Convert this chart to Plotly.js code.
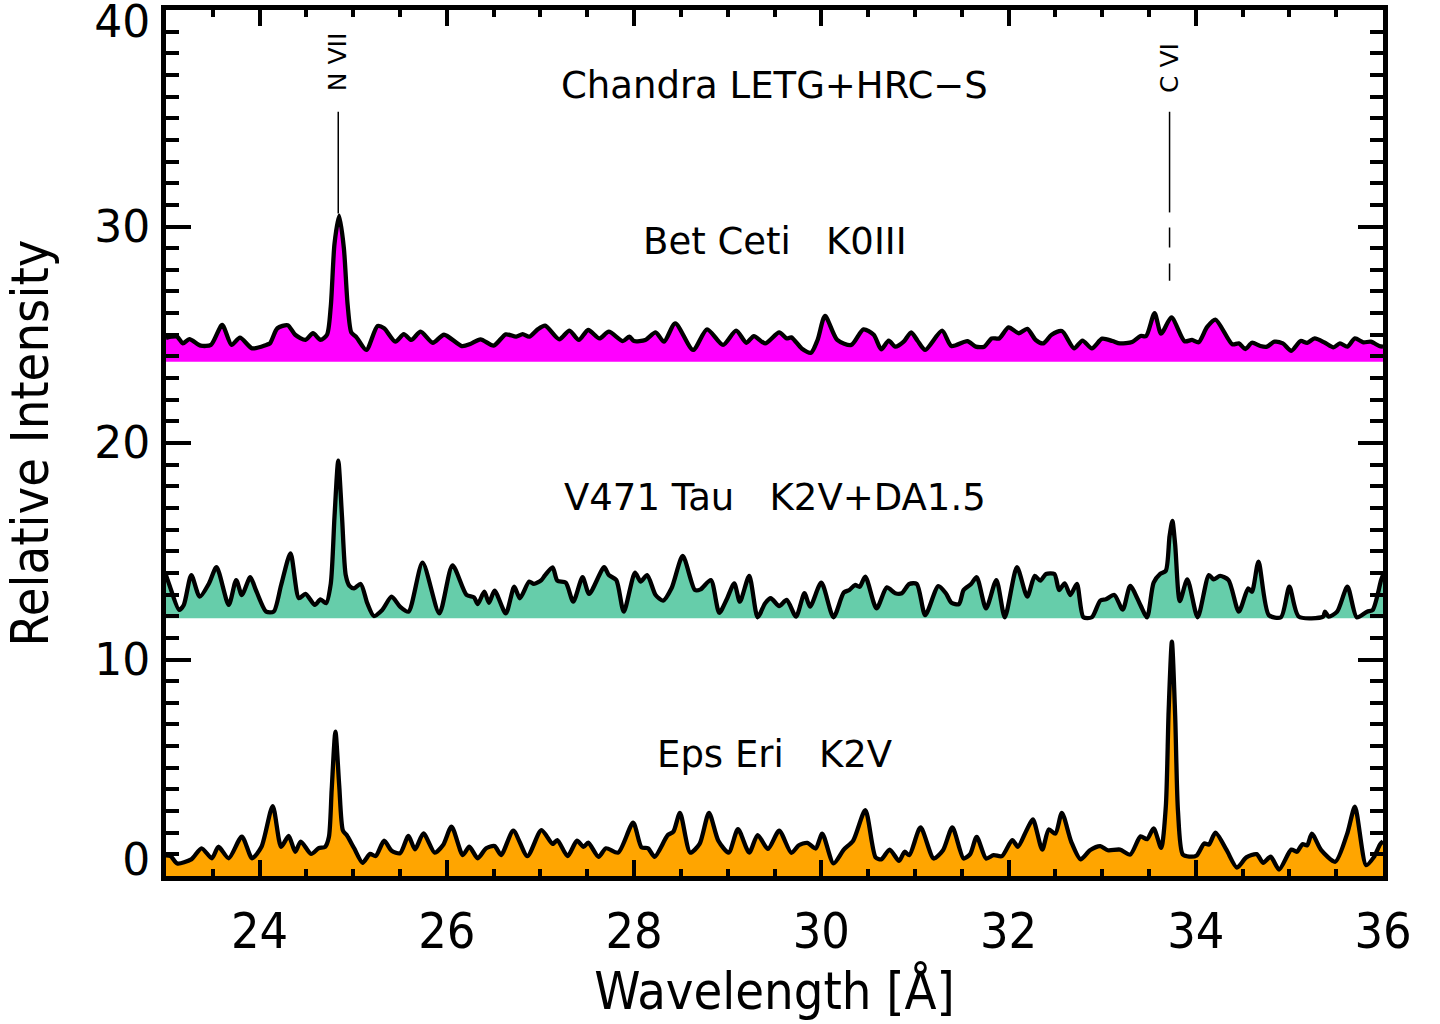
<!DOCTYPE html>
<html><head><meta charset="utf-8">
<script src="https://cdn.plot.ly/plotly-3.0.1.min.js"></script>
<style>body{margin:0;background:#fff}#chart{width:1440px;height:1024px}</style>
</head><body><div id="chart"></div>
<script>
// ---- Data ----
const betX = [23.00,23.06,23.12,23.18,23.25,23.37,23.48,23.60,23.70,23.79,23.92,24.07,24.11,24.19,24.30,24.38,24.49,24.57,24.65,24.72,24.76,24.80,24.85,24.90,24.94,24.98,25.03,25.14,25.26,25.33,25.45,25.54,25.62,25.72,25.85,25.97,26.16,26.25,26.36,26.50,26.63,26.74,26.81,26.88,26.97,27.05,27.20,27.31,27.41,27.51,27.63,27.73,27.88,27.95,28.00,28.12,28.23,28.32,28.44,28.63,28.78,28.95,29.09,29.20,29.28,29.40,29.55,29.63,29.68,29.79,29.89,29.96,30.04,30.17,30.32,30.45,30.56,30.64,30.72,30.79,30.88,30.96,31.03,31.11,31.29,31.39,31.56,31.65,31.74,31.82,31.90,32.00,32.11,32.20,32.29,32.37,32.46,32.57,32.70,32.79,32.89,33.00,33.11,33.19,33.32,33.41,33.47,33.56,33.63,33.74,33.88,33.96,34.03,34.12,34.21,34.39,34.46,34.53,34.60,34.69,34.76,34.84,34.93,35.02,35.12,35.19,35.27,35.38,35.47,35.54,35.62,35.70,35.79,35.87,35.96,36.00];
const betY = [24.85,24.91,24.91,24.60,24.80,24.50,24.53,25.45,24.53,24.87,24.37,24.53,24.60,25.30,25.44,25.00,24.76,25.07,24.76,25.00,26.3,29.2,30.5,29.0,26.4,25.1,24.91,24.30,25.40,25.30,24.68,25.03,24.76,25.14,24.63,25.00,24.48,24.57,24.79,24.50,25.02,24.91,25.03,24.91,25.25,25.42,24.79,25.19,24.76,25.22,24.83,25.14,24.71,24.91,24.71,24.76,25.11,24.68,25.53,24.30,25.25,24.53,25.19,24.63,24.94,24.60,25.11,24.83,24.88,24.37,24.17,24.76,25.87,24.76,24.53,25.25,25.00,24.33,24.73,24.45,24.68,25.11,24.71,24.30,25.19,24.48,24.71,24.45,24.45,24.83,24.83,25.34,25.07,25.27,24.76,24.60,25.00,25.17,24.37,24.73,24.37,24.82,24.71,24.60,24.67,24.94,24.94,26.0,25.05,25.8,24.70,24.76,24.65,25.35,25.7,24.56,24.60,24.34,24.63,24.48,24.45,24.68,24.60,24.26,24.71,24.63,24.83,24.63,24.42,24.60,24.45,24.83,24.65,24.68,24.48,24.45];

const v471X = [23.00,23.04,23.14,23.19,23.27,23.36,23.46,23.54,23.67,23.75,23.81,23.90,23.96,24.07,24.15,24.23,24.33,24.42,24.49,24.59,24.65,24.71,24.76,24.80,24.84,24.88,24.92,24.96,25.01,25.08,25.15,25.22,25.31,25.41,25.50,25.59,25.74,25.92,26.06,26.21,26.29,26.33,26.40,26.45,26.51,26.63,26.72,26.78,26.88,26.93,27.01,27.05,27.13,27.18,27.27,27.35,27.45,27.52,27.68,27.73,27.81,27.89,28.01,28.07,28.14,28.23,28.31,28.40,28.52,28.65,28.71,28.82,28.91,28.99,29.07,29.13,29.23,29.32,29.40,29.46,29.55,29.63,29.73,29.82,29.88,30.00,30.13,30.24,30.30,30.36,30.41,30.47,30.59,30.70,30.79,30.86,30.94,31.02,31.11,31.25,31.33,31.39,31.47,31.52,31.60,31.66,31.76,31.87,31.96,32.09,32.20,32.28,32.34,32.40,32.49,32.54,32.60,32.66,32.73,32.80,32.89,32.98,33.04,33.13,33.22,33.30,33.41,33.48,33.55,33.62,33.68,33.72,33.75,33.78,33.83,33.91,34.02,34.14,34.19,34.26,34.35,34.46,34.56,34.60,34.67,34.78,34.91,35.00,35.10,35.36,35.38,35.42,35.51,35.62,35.72,35.83,35.89,35.98,36.00];
const v471Y = [13.9,13.4,12.29,12.52,13.90,12.90,13.52,14.26,12.52,13.67,12.98,13.80,13.21,12.21,12.21,13.44,14.90,12.83,13.03,12.52,12.78,12.60,13.5,16.6,19.19,16.6,13.9,13.4,13.29,13.49,12.60,12.01,12.29,12.90,12.44,12.21,14.47,12.13,14.35,12.98,12.87,12.56,13.13,12.62,13.18,12.13,13.36,12.83,13.60,13.49,13.67,13.90,14.26,13.64,13.55,12.67,13.80,13.03,14.26,13.90,13.67,12.21,14.01,13.60,13.90,12.98,12.72,13.29,14.78,13.21,13.24,13.67,12.16,12.78,13.52,12.67,13.86,11.95,12.6,12.83,12.47,12.75,11.98,13.06,12.44,13.55,11.95,13.09,13.21,13.44,13.36,13.83,12.36,13.33,13.06,13.06,13.49,13.49,12.05,13.39,13.06,12.62,12.56,13.21,13.49,13.80,12.36,13.67,11.95,14.26,12.90,13.86,13.64,13.95,13.95,13.21,13.52,12.98,13.49,11.95,11.95,12.72,12.78,12.98,12.3,13.4,12.5,11.95,13.55,13.95,14.1,15.7,16.4,15.3,12.7,13.7,11.95,13.9,13.7,13.86,13.67,12.21,13.29,13.13,14.52,12.05,11.95,13.36,11.98,11.98,12.21,11.98,12.21,13.36,11.95,12.21,12.29,13.67,13.9];

const epsX = [23.00,23.05,23.12,23.27,23.38,23.49,23.56,23.67,23.81,23.92,24.02,24.14,24.23,24.31,24.38,24.44,24.55,24.63,24.70,24.74,24.77,24.81,24.85,24.89,24.93,25.01,25.10,25.18,25.24,25.33,25.41,25.50,25.59,25.66,25.75,25.87,25.96,26.05,26.17,26.24,26.33,26.42,26.51,26.58,26.71,26.86,27.01,27.13,27.18,27.29,27.39,27.46,27.51,27.62,27.70,27.83,27.99,28.08,28.15,28.22,28.36,28.42,28.49,28.60,28.70,28.80,28.90,29.01,29.11,29.23,29.32,29.43,29.55,29.68,29.76,29.85,29.94,30.01,30.13,30.24,30.34,30.47,30.58,30.64,30.73,30.83,30.89,30.94,31.06,31.20,31.30,31.40,31.52,31.59,31.66,31.76,31.84,31.93,32.04,32.10,32.19,32.26,32.36,32.43,32.50,32.57,32.67,32.77,32.87,32.98,33.06,33.19,33.30,33.41,33.48,33.55,33.63,33.68,33.71,33.745,33.78,33.81,33.86,33.93,34.01,34.09,34.14,34.21,34.33,34.44,34.54,34.65,34.72,34.80,34.89,35.02,35.08,35.14,35.19,35.24,35.34,35.49,35.62,35.70,35.82,35.90,35.97,36.00];
const epsY = [0.95,0.92,0.58,0.77,1.28,0.82,1.35,0.82,1.82,0.82,1.35,3.23,1.35,1.85,1.12,1.59,1.02,1.28,1.35,1.8,4.0,6.67,4.2,2.1,1.89,1.28,0.61,1.02,0.92,1.63,1.17,1.05,1.85,1.23,1.97,1.08,1.43,2.28,0.97,1.35,0.82,1.28,1.38,0.97,2.09,0.92,2.12,1.48,1.66,0.92,1.63,1.35,1.54,0.89,1.28,1.08,2.46,1.32,1.28,0.89,1.89,2.05,2.92,1.08,1.48,2.92,1.63,1.08,2.16,1.08,1.89,1.25,2.09,1.07,1.42,1.53,1.27,1.96,0.58,1.22,1.63,3.04,0.86,0.77,1.22,0.70,1.12,0.96,2.24,0.81,1.19,2.24,0.81,1.01,1.81,0.81,0.96,0.92,1.66,1.35,2.09,2.61,1.22,2.15,1.96,2.92,1.58,0.77,1.19,1.38,1.19,1.22,0.99,1.83,1.70,2.20,1.30,3.2,7.6,10.82,7.4,3.0,1.0,0.9,0.95,1.5,1.45,2.0,1.19,0.39,0.86,1.01,0.61,0.89,0.30,1.22,1.12,1.47,1.42,1.96,1.19,0.66,1.99,3.20,0.50,0.86,1.47,1.6];

const seriesNames = ['Bet Ceti', 'V471 Tau', 'Eps Eri'];
const seriesLabels = ['Bet\u00a0Ceti\u00a0\u00a0\u00a0K0III', 'V471\u00a0Tau\u00a0\u00a0\u00a0K2V+DA1.5', 'Eps\u00a0Eri\u00a0\u00a0\u00a0K2V'];
const seriesBases = [23.75, 11.9, 0];
const labelY = [29.3, 17.5, 5.6];

const lineNames = ['N\u00a0VII', 'C\u00a0VI'];
const lineWaves = [24.84, 33.72];
const lineLabelY = [37.6, 37.3];
const lineSolid = [[35.3, 30.6], [35.3, 30.65]];
const lineDashed = [null, [29.95, 27.5]];

const xTickVals = [24, 26, 28, 30, 32, 34, 36];
const yTickValsMid = [10, 20, 30];
const yTickValTop = [40];
const yTickValBottom = [0];

const plotTitle = 'Chandra LETG+HRC\u2212S';

// ---- Build traces ----
const fills = ['#FF00FF', '#66CDAA', '#FFA500'];
const xs = [betX, v471X, epsX];
const ys = [betY, v471Y, epsY];
const traces = [];
for (let i = 0; i < 3; i++) {
  traces.push({
    x: [23, 36], y: [seriesBases[i], seriesBases[i]], mode: 'lines',
    line: {width: 0, color: fills[i]}, hoverinfo: 'skip', showlegend: false
  });
  traces.push({
    x: xs[i], y: ys[i], name: seriesNames[i], mode: 'lines',
    line: {color: 'black', width: 4.3, shape: 'spline', smoothing: 0.7},
    fill: 'tonexty', fillcolor: fills[i], showlegend: false
  });
}
// invisible anchors for the overlay label axes
traces.push({x: [23], y: [0], yaxis: 'y2', mode: 'markers', marker: {opacity: 0}, hoverinfo: 'skip', showlegend: false});
traces.push({x: [23], y: [0], yaxis: 'y3', mode: 'markers', marker: {opacity: 0}, hoverinfo: 'skip', showlegend: false});

const shapes = [];
for (let i = 0; i < lineWaves.length; i++) {
  shapes.push({type: 'line', xref: 'x', yref: 'y', x0: lineWaves[i], x1: lineWaves[i],
    y0: lineSolid[i][0], y1: lineSolid[i][1], line: {color: 'black', width: 1.5}});
  if (lineDashed[i]) {
    shapes.push({type: 'line', xref: 'x', yref: 'y', x0: lineWaves[i], x1: lineWaves[i],
      y0: lineDashed[i][0], y1: lineDashed[i][1], line: {color: 'black', width: 1.5, dash: '20px,16px'}});
  }
}

const annFont = {family: 'DejaVu Sans', size: 37, color: 'black'};
const annotations = [{
  x: 29.5, y: 36.5, xref: 'x', yref: 'y', text: plotTitle, showarrow: false, font: annFont
}];
for (let i = 0; i < 3; i++) {
  annotations.push({x: 29.5, y: labelY[i], xref: 'x', yref: 'y', text: seriesLabels[i],
    showarrow: false, font: annFont});
}
for (let i = 0; i < lineNames.length; i++) {
  annotations.push({x: lineWaves[i], y: lineLabelY[i], xref: 'x', yref: 'y', text: lineNames[i],
    textangle: -90, showarrow: false, font: {family: 'DejaVu Sans', size: 25, color: 'black'}});
}

const condensed = 'DejaVu Sans Condensed, DejaVu Sans';
const yLabelFont = {family: 'DejaVu Sans', size: 44};
const overlayY = (vals, shift) => ({
  overlaying: 'y', anchor: 'x', side: 'left', range: [0, 40],
  tickmode: 'array', tickvals: vals, ticks: 'inside', ticklen: 25, tickwidth: 4, tickcolor: 'black',
  showline: true, linewidth: 5, linecolor: 'black', showgrid: false, zeroline: false,
  tickfont: yLabelFont, ticklabelstandoff: 2, ticklabelshift: shift, ticklabeloverflow: 'allow'
});

const layout = {
  width: 1440, height: 1024,
  margin: {l: 166, r: 57, t: 10, b: 148},
  paper_bgcolor: '#fff', plot_bgcolor: '#fff', showlegend: false,
  font: {family: 'DejaVu Sans', color: 'black'},
  xaxis: {
    range: [23, 36], tickmode: 'array', tickvals: xTickVals,
    ticks: 'inside', ticklen: 16, tickwidth: 4, tickcolor: 'black',
    showline: true, linewidth: 5, linecolor: 'black', mirror: 'ticks',
    showgrid: false, zeroline: false,
    minor: {dtick: 0.5, tick0: 23, ticks: 'inside', ticklen: 7, tickwidth: 4, tickcolor: 'black', showgrid: false},
    tickfont: {family: condensed, size: 50},
    ticklabelstandoff: 7,
    title: {text: 'Wavelength [\u00c5]', font: {family: condensed, size: 52}, standoff: 12}
  },
  yaxis: {
    range: [0, 40], tickmode: 'array', tickvals: yTickValsMid,
    ticks: 'inside', ticklen: 25, tickwidth: 4, tickcolor: 'black',
    showline: true, linewidth: 5, linecolor: 'black', mirror: 'ticks',
    showgrid: false, zeroline: false,
    minor: {tickmode: 'linear', dtick: 1, tick0: 0, ticks: 'inside', ticklen: 13, tickwidth: 4, tickcolor: 'black', showgrid: false},
    tickfont: yLabelFont,
    ticklabelstandoff: 2,
    title: {text: 'Relative Intensity', font: {family: condensed, size: 52}, standoff: 31}
  },
  yaxis2: overlayY(yTickValTop, 12),
  yaxis3: overlayY(yTickValBottom, -16),
  shapes: shapes,
  annotations: annotations
};

Plotly.newPlot('chart', traces, layout, {displayModeBar: false, staticPlot: true});
</script>
</body></html>
